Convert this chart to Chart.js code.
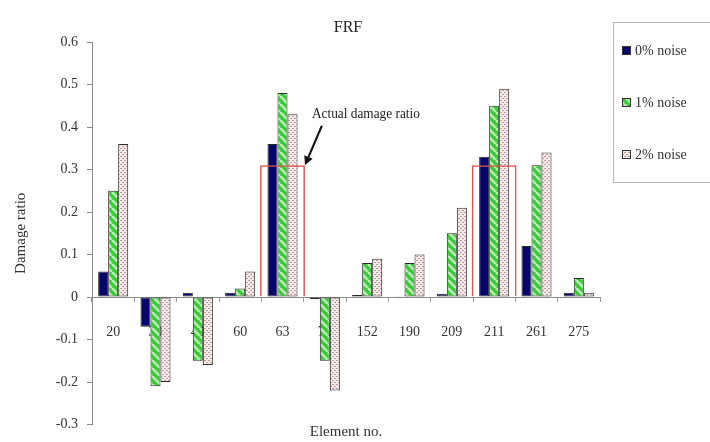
<!DOCTYPE html>
<html>
<head>
<meta charset="utf-8">
<script src="https://cdn.jsdelivr.net/npm/chart.js@4/dist/chart.umd.min.js"></script>
<style>
  html, body { margin: 0; padding: 0; background: #fff; }
  #wrap { width: 710px; height: 442px; position: relative; }
</style>
</head>
<body>
<div id="wrap"><canvas id="c" width="710" height="442"></canvas></div>
<script>
// Element numbers along the x axis
const elements = ['20', '30', '40', '60', '63', '70', '152', '190', '209', '211', '261', '275'];

// Identified damage ratio per element for each noise level
const noise0 = [0.06, -0.07, 0.01, 0.01, 0.36, -0.005, 0.005, 0.002, 0.008, 0.33, 0.12, 0.01];
const noise1 = [0.25, -0.21, -0.15, 0.02, 0.48, -0.15, 0.08, 0.08, 0.15, 0.45, 0.31, 0.045];
const noise2 = [0.36, -0.20, -0.16, 0.06, 0.43, -0.22, 0.09, 0.10, 0.21, 0.49, 0.34, 0.01];

// Actual (imposed) damage in the damaged elements
const actualDamage = [null, null, null, null, 0.31, null, null, null, null, 0.31, null, null];

const seriesLabels = ['0% noise', '1% noise', '2% noise'];
const yTicks = [-0.3, -0.2, -0.1, 0, 0.1, 0.2, 0.3, 0.4, 0.5, 0.6];

const SERIF = '"Liberation Serif", "DejaVu Serif", serif';

// Fill patterns for the noisy series
function stripePattern() {
  const t = document.createElement('canvas');
  t.width = 8; t.height = 8;
  const g = t.getContext('2d');
  g.fillStyle = '#3cc83c';
  g.fillRect(0, 0, 8, 8);
  g.strokeStyle = '#b4f0ac';
  g.lineWidth = 2.6;
  for (let k = -8; k <= 16; k += 8) {
    g.beginPath();
    g.moveTo(k, 0);
    g.lineTo(k + 8, 8);
    g.stroke();
  }
  return g.createPattern(t, 'repeat');
}
function dotPattern() {
  const t = document.createElement('canvas');
  t.width = 4; t.height = 4;
  const g = t.getContext('2d');
  g.fillStyle = '#f6eaea';
  g.fillRect(0, 0, 4, 4);
  g.fillStyle = '#c09a9a';
  g.fillRect(0, 0, 2, 1);
  g.fillRect(2, 2, 2, 1);
  return g.createPattern(t, 'repeat');
}

const fills = ['#05056b', stripePattern(), dotPattern()];

// Annotation placement in data units (category index, value)
const noteText = 'Actual damage ratio';
const noteAt = { index: 5.97, value: 0.43 };
const arrowFrom = { index: 4.93, value: 0.403 };

const overlay = {
  id: 'overlay',
  afterDraw(chart) {
    const ctx = chart.ctx;
    const xs = chart.scales.x, ys = chart.scales.y;
    const area = chart.chartArea;
    ctx.save();

    // Title
    ctx.fillStyle = '#222';
    ctx.font = '16px ' + SERIF;
    ctx.textAlign = 'center';
    ctx.textBaseline = 'middle';
    ctx.fillText('FRF', (area.left + area.right) / 2 + 2, 28);

    // X axis title
    ctx.font = '15px ' + SERIF;
    ctx.fillStyle = '#333';
    ctx.fillText('Element no.', (area.left + area.right) / 2, 432);

    // Annotation text (condensed)
    const tx = xs.getPixelForValue(noteAt.index);
    const ty = ys.getPixelForValue(noteAt.value);
    ctx.font = '14px ' + SERIF;
    const w = ctx.measureText(noteText).width;
    const target = 108;
    ctx.save();
    ctx.translate(tx, ty);
    ctx.scale(target / w, 1);
    ctx.fillStyle = '#222';
    ctx.fillText(noteText, 0, 0);
    ctx.restore();

    // Arrow to the top-right corner of the actual damage box
    const boxMeta = chart.getDatasetMeta(3);
    const bar = boxMeta.data[4];
    const half = bar.width / 2;
    const tipX = bar.x + half;
    const tipY = ys.getPixelForValue(actualDamage[4]);
    const sx = xs.getPixelForValue(arrowFrom.index);
    const sy = ys.getPixelForValue(arrowFrom.value);
    const ang = Math.atan2(tipY - sy, tipX - sx);
    const head = 9;
    const bx = tipX - head * Math.cos(ang), by = tipY - head * Math.sin(ang);
    ctx.strokeStyle = '#111';
    ctx.lineWidth = 2;
    ctx.beginPath();
    ctx.moveTo(sx, sy);
    ctx.lineTo(bx, by);
    ctx.stroke();
    ctx.fillStyle = '#111';
    ctx.beginPath();
    ctx.moveTo(tipX, tipY);
    ctx.lineTo(bx + 4.5 * Math.sin(ang), by - 4.5 * Math.cos(ang));
    ctx.lineTo(bx - 4.5 * Math.sin(ang), by + 4.5 * Math.cos(ang));
    ctx.closePath();
    ctx.fill();

    // Legend box
    const lx = area.right + 13, ly = 22;
    ctx.strokeStyle = '#b8b8b8';
    ctx.lineWidth = 1;
    ctx.strokeRect(lx + 0.5, ly + 0.5, 120, 160);
    ctx.font = '14px ' + SERIF;
    ctx.textAlign = 'left';
    const rows = [51, 103, 155];
    seriesLabels.forEach((lab, i) => {
      const my = rows[i];
      ctx.fillStyle = fills[i];
      ctx.fillRect(lx + 9, my - 5, 9, 9);
      ctx.strokeStyle = '#333';
      ctx.strokeRect(lx + 9.5, my - 4.5, 8, 8);
      ctx.fillStyle = '#333';
      ctx.fillText(lab, lx + 22, my);
    });

    ctx.restore();
  }
};

const barBase = {
  borderColor: '#2a2a2a',
  borderWidth: 1,
  borderSkipped: false,
  categoryPercentage: 0.71,
  barPercentage: 1.0,
  order: 1
};

new Chart(document.getElementById('c'), {
  type: 'bar',
  data: {
    labels: elements,
    datasets: [
      Object.assign({ label: seriesLabels[0], data: noise0, backgroundColor: fills[0] }, barBase),
      Object.assign({ label: seriesLabels[1], data: noise1, backgroundColor: fills[1] }, barBase),
      Object.assign({ label: seriesLabels[2], data: noise2, backgroundColor: fills[2] }, barBase),
      {
        // outline of the actual damage, centred on the whole category
        label: 'Actual damage ratio',
        data: actualDamage,
        grouped: false,
        backgroundColor: 'rgba(0,0,0,0)',
        borderColor: '#d9534f',
        borderWidth: 1.5,
        borderSkipped: 'bottom',
        categoryPercentage: 1.06,
        barPercentage: 1.0,
        order: 0
      }
    ]
  },
  options: {
    responsive: false,
    animation: false,
    events: [],
    layout: { padding: { left: 0, right: 110, top: 42, bottom: 11 } },
    plugins: { legend: { display: false }, tooltip: { enabled: false }, title: { display: false } },
    scales: {
      x: {
        position: { y: 0 },
        offset: true,
        grid: { drawOnChartArea: false, drawTicks: true, tickLength: 4, color: '#999', offset: true },
        border: { display: true, color: '#8a8a8a', width: 1 },
        ticks: { color: '#333', font: { family: SERIF, size: 14 }, padding: 23, maxRotation: 0, autoSkip: false }
      },
      y: {
        min: -0.3,
        max: 0.6,
        afterFit(scale) { scale.width = 92; },
        afterBuildTicks(scale) { scale.ticks = yTicks.map(v => ({ value: v })); },
        grid: { drawOnChartArea: false, drawTicks: true, tickLength: 5, color: '#888' },
        border: { display: true, color: '#8a8a8a', width: 1 },
        ticks: {
          color: '#333',
          font: { family: SERIF, size: 14 },
          padding: 9,
          callback: v => (Math.round(v * 10) / 10).toString()
        },
        title: {
          display: true,
          text: 'Damage ratio',
          color: '#333',
          font: { family: SERIF, size: 15 },
          padding: { top: 12, bottom: 0 }
        }
      }
    }
  },
  plugins: [overlay]
});
</script>
</body>
</html>
